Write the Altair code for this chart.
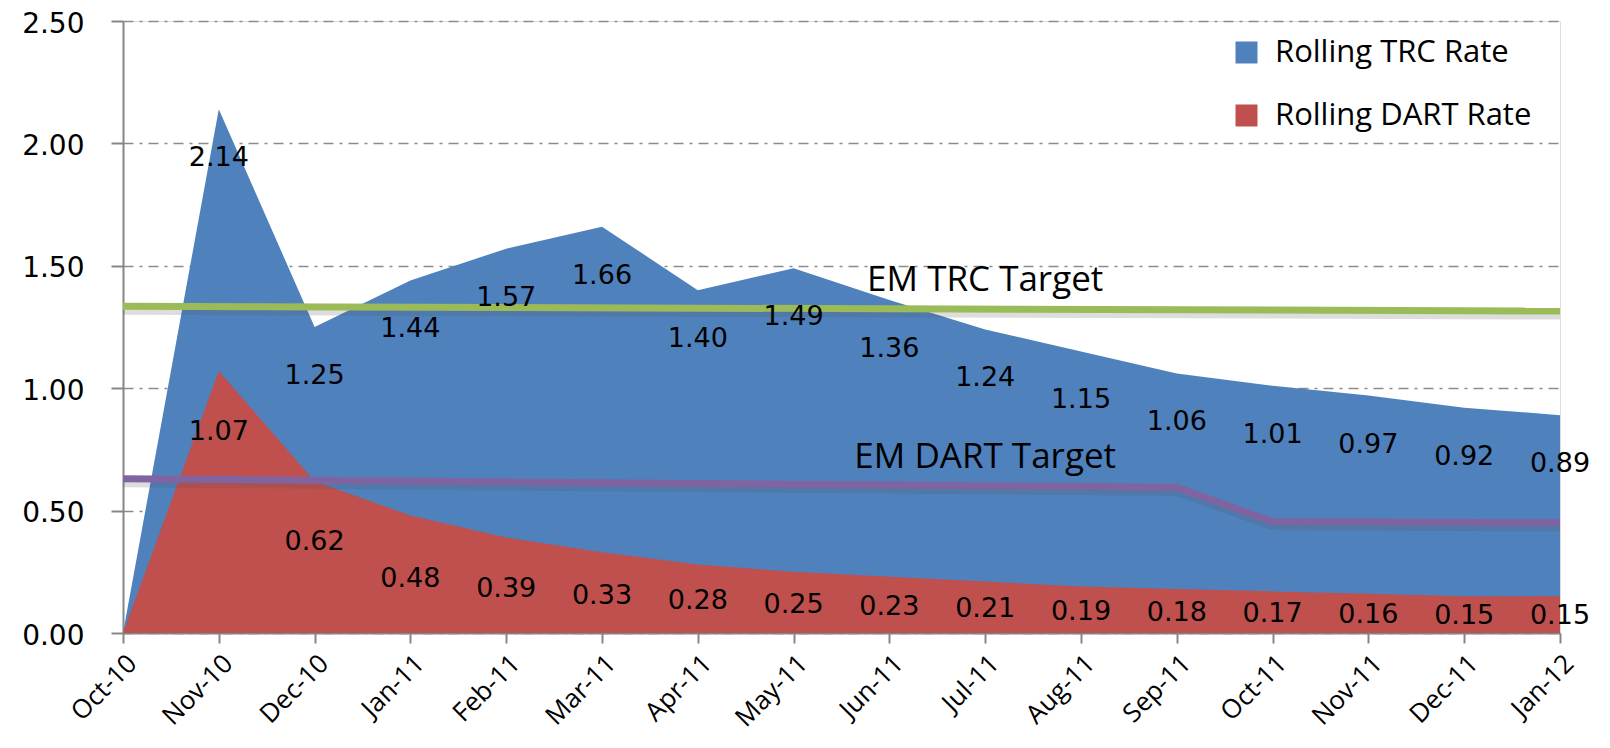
import altair as alt
import pandas as pd

months = ["Oct-10", "Nov-10", "Dec-10", "Jan-11", "Feb-11", "Mar-11", "Apr-11", "May-11",
          "Jun-11", "Jul-11", "Aug-11", "Sep-11", "Oct-11", "Nov-11", "Dec-11", "Jan-12"]
trc = [0.00, 2.14, 1.25, 1.44, 1.57, 1.66, 1.40, 1.49, 1.36, 1.24, 1.15, 1.06, 1.01, 0.97, 0.92, 0.89]
dart = [0.00, 1.07, 0.62, 0.48, 0.39, 0.33, 0.28, 0.25, 0.23, 0.21, 0.19, 0.18, 0.17, 0.16, 0.15, 0.15]

trc_target_months = ["Oct-10", "Jan-12"]
trc_target = [1.335, 1.315]
dart_target_months = ["Oct-10", "Sep-11", "Oct-11", "Jan-12"]
dart_target = [0.63, 0.595, 0.455, 0.45]

series_names = ["Rolling TRC Rate", "Rolling DART Rate"]
annot_text = ["EM TRC Target", "EM DART Target"]
annot_month = ["Jul-11", "Jul-11"]
annot_value = [1.44, 0.72]
y_ticks = [0, 0.5, 1.0, 1.5, 2.0, 2.5]

BLUE, RED, GREEN, PURPLE = "#4F81BD", "#C0504D", "#9BBB59", "#8064A2"
AXIS_GREY = "#868686"

rows = []
for m, a, b in zip(months, trc, dart):
    rows.append({"month": m, "series": series_names[0], "value": a})
    rows.append({"month": m, "series": series_names[1], "value": b})
df = pd.DataFrame(rows)

tgt_rows = [{"month": m, "target": "TRC", "value": v} for m, v in zip(trc_target_months, trc_target)]
tgt_rows += [{"month": m, "target": "DART", "value": v} for m, v in zip(dart_target_months, dart_target)]
tgt = pd.DataFrame(tgt_rows)

ann = pd.DataFrame({"text": annot_text, "month": annot_month, "value": annot_value})

x_enc = alt.X(
    "month:O", sort=months,
    scale=alt.Scale(type="point", padding=0),
    axis=alt.Axis(title=None, labelAngle=-45, labelAlign="right", labelBaseline="top",
                  labelFont="Open Sans", labelFontSize=26, labelColor="#000",
                  tickColor=AXIS_GREY, tickSize=10, tickWidth=2,
                  domainColor=AXIS_GREY, domainWidth=2, labelPadding=7, grid=False),
)
y_enc = alt.Y(
    "value:Q",
    scale=alt.Scale(domain=[0, 2.5], nice=False, zero=True),
    axis=alt.Axis(title=None, values=y_ticks, format=".2f",
                  labelFont="DejaVu Sans", labelFontSize=28, labelColor="#000",
                  tickColor=AXIS_GREY, tickSize=12, tickWidth=2,
                  domainColor=AXIS_GREY, domainWidth=2, labelPadding=27, labelOffset=3,
                  gridColor="#8c8c8c", gridDash=[10, 6, 3, 6], gridWidth=1.5),
)
color_enc = alt.Color(
    "series:N",
    scale=alt.Scale(domain=series_names, range=[BLUE, RED]),
    legend=alt.Legend(title=None, orient="none", legendX=1108, legendY=16,
                      symbolType="square", symbolSize=484, symbolStrokeWidth=0,
                      symbolOpacity=1, labelFont="Open Sans", labelFontSize=31,
                      labelColor="#000", rowPadding=31, labelOffset=13, labelLimit=0),
)

base = alt.Chart(df)
trc_area = base.transform_filter(alt.datum.series == series_names[0]).mark_area(
    opacity=1, interpolate="linear").encode(x=x_enc, y=y_enc, color=color_enc)
dart_area = base.transform_filter(alt.datum.series == series_names[1]).mark_area(
    opacity=1, interpolate="linear").encode(x=x_enc, y=y_enc, color=color_enc)

tbase = alt.Chart(tgt)
shadow = tbase.mark_line(color="#555555", opacity=0.2, strokeWidth=7, yOffset=5,
                         strokeCap="butt").encode(x=x_enc, y=y_enc, detail="target:N")
lines = tbase.mark_line(strokeWidth=7, strokeCap="butt").encode(
    x=x_enc, y=y_enc, detail="target:N",
    stroke=alt.Stroke("target:N", scale=alt.Scale(domain=["TRC", "DART"], range=[GREEN, PURPLE]),
                      legend=None))

trc_labels = base.transform_filter(
    (alt.datum.series == series_names[0]) & (alt.datum.value > 0)
).transform_calculate(ly="datum.value - 0.2").mark_text(
    font="DejaVu Sans", fontSize=27, color="#000", baseline="middle", align="center"
).encode(x=x_enc, y=alt.Y("ly:Q"), text=alt.Text("value:Q", format=".2f"))

dart_labels = base.transform_filter(
    (alt.datum.series == series_names[1]) & (alt.datum.value > 0)
).transform_calculate(ly="datum.value > 0.5 ? datum.value - 0.25 : datum.value * 0.46").mark_text(
    font="DejaVu Sans", fontSize=27, color="#000", baseline="middle", align="center"
).encode(x=x_enc, y=alt.Y("ly:Q"), text=alt.Text("value:Q", format=".2f"))

annots = alt.Chart(ann).mark_text(
    font="Open Sans", fontSize=35, color="#000", baseline="middle", align="center"
).encode(x=x_enc, y=y_enc, text="text:N")

chart = alt.layer(trc_area, dart_area, shadow, lines, trc_labels, dart_labels, annots).properties(
    width=1437, height=612,
    autosize=alt.AutoSizeParams(type="none"),
    padding={"left": 115, "top": 13, "right": 42, "bottom": 107},
).configure_view(stroke=None).configure(background="white")

chart.save("out.html", embed_options={"renderer": "svg", "actions": False})
